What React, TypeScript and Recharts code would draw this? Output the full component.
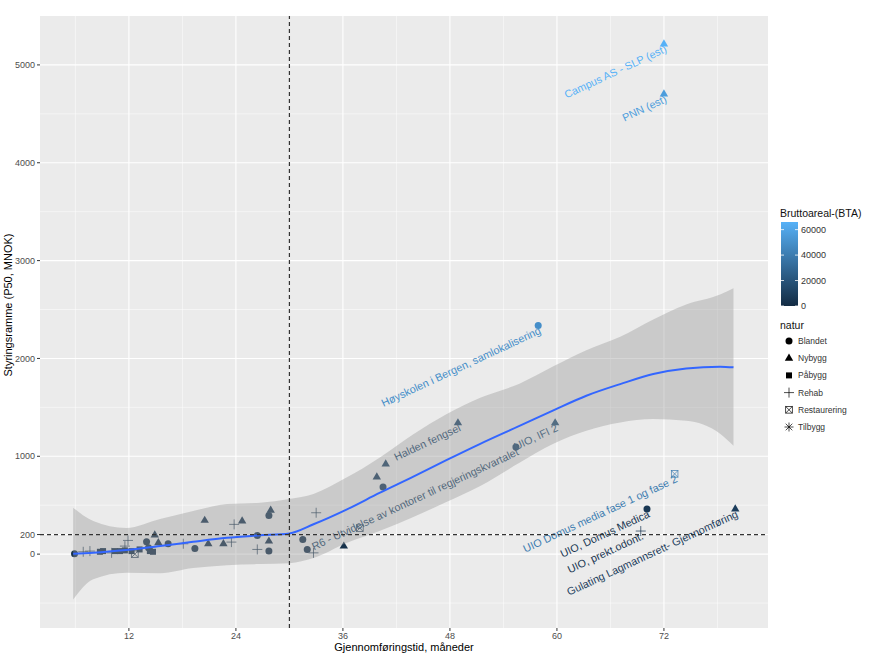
import React from "react"
import {
  ComposedChart,
  Scatter,
  Area,
  Line,
  XAxis,
  YAxis,
  CartesianGrid,
  ReferenceLine,
} from "recharts"

// [måneder, MNOK, BTA]
const blandet = [
  [5.9, 5, 3000],
  [13.98, 126, 3000],
  [14.2, 65, 3000],
  [16.4, 106, 3500],
  [19.4, 58, 3000],
  [26.4, 191, 4000],
  [27.7, 31, 3000],
  [27.7, 396, 6000],
  [31.5, 150, 3500],
  [32.0, 48, 3000],
  [40.5, 686, 9000],
  [55.4, 1096, 14000],
  [57.9, 2336, 49000],
  [70.1, 461, 6000],
]
const nybygg = [
  [14.9, 195, 3500],
  [15.3, 116, 3000],
  [20.5, 345, 5000],
  [20.9, 106, 3000],
  [22.6, 106, 3000],
  [24.7, 338, 5000],
  [27.7, 133, 3000],
  [27.9, 448, 6000],
  [36.1, 82, 3000],
  [39.8, 789, 10000],
  [40.8, 922, 12000],
  [48.9, 1342, 15000],
  [59.8, 1342, 18000],
  [72, 5215, 66000],
  [72, 4703, 56000],
  [80, 461, 9000],
]
const pabygg = [
  [8.75, 24, 2500],
  [9.1, 31, 2500],
  [10.43, 31, 2500],
  [11.0, 31, 2500],
  [11.55, 38, 2500],
  [12.3, 31, 2500],
  [13.2, 48, 2500],
  [14.35, 31, 2500],
  [14.7, 24, 2500],
]
const rehab = [
  [6.88, 24, 2500],
  [7.63, 31, 2500],
  [10.06, 13, 2500],
  [11.55, 82, 2500],
  [11.9, 140, 2500],
  [18.1, 106, 2500],
  [23.5, 123, 2500],
  [23.8, 304, 3000],
  [26.4, 48, 2500],
  [32.7, 13, 2500],
  [33.0, 423, 4000],
  [69.4, 236, 5000],
]
const restaurering = [
  [12.67, 0, 2500],
  [37.9, 266, 3000],
  [73.2, 820, 40000],
]

const labelText = [
  "Campus AS - SLP (est)",
  "PNN (est)",
  "Høyskolen i Bergen, samlokalisering",
  "Halden fengsel",
  "R6 - Utvidelse av kontorer til regjeringskvartalet",
  "UIO, IFI 2",
  "UIO Domus media fase 1 og fase 2",
  "UIO, Domus Medica",
  "UIO, prekt.odont.",
  "Gulating Lagmannsrett- Gjennomføring",
]
const labelX = [72, 72, 57.9, 48.9, 55.4, 59.8, 73.2, 70.1, 69.4, 80]
const labelY = [5215, 4703, 2336, 1342, 1096, 1342, 820, 461, 236, 461]
const labelBta = [66000, 56000, 49000, 15000, 14000, 18000, 40000, 6000, 5000, 9000]

// loess-kurve med konfidensbånd
const fitX = [5.75, 8, 11.7, 15.5, 19.2, 23, 26.7, 30, 32.7, 36.4, 40.1, 43.9, 47.6, 51.4, 55.8, 59.6, 63.3, 67.1, 70.8, 74.5, 78.3, 79.8]
const fitY = [3, 13, 41, 82, 126, 167, 192, 212, 305, 455, 625, 792, 960, 1127, 1310, 1470, 1619, 1738, 1841, 1898, 1916, 1909]
const fitLo = [-464, -256, -190, -195, -143, -113, -102, -92, -40, 113, 236, 379, 533, 697, 933, 1127, 1260, 1345, 1380, 1363, 1230, 1107]
const fitHi = [474, 338, 268, 359, 441, 512, 526, 563, 615, 782, 986, 1225, 1430, 1598, 1742, 1919, 2083, 2221, 2398, 2551, 2654, 2718]

const xMajor = [12, 24, 36, 48, 60, 72]
const xMinor = [6, 18, 30, 42, 54, 66, 78]
const yMajor = [0, 200, 1000, 2000, 3000, 4000, 5000]
const yMinor = [-500, 500, 1500, 2500, 3500, 4500]
const btaTicks = [0, 20000, 40000, 60000]
const naturNames = ["Blandet", "Nybygg", "Påbygg", "Rehab", "Restaurering", "Tilbygg"]

const BTA_MAX = 66000
const LOW = [0x13, 0x2b, 0x43]
const HIGH = [0x56, 0xb1, 0xf7]
const FONT = "'Liberation Sans', Arial, Helvetica, sans-serif"

function btaColor(b: number) {
  const t = Math.max(0, Math.min(1, b / BTA_MAX))
  const rgb = LOW.map((v, i) => Math.round(v + (HIGH[i] - v) * t))
  return `rgb(${rgb.join(",")})`
}

const toPoints = (rows: number[][]) => rows.map(([x, y, bta]) => ({ x, y, bta }))

const fit = fitX.map((x, i) => ({ x, y: fitY[i], band: [fitLo[i], fitHi[i]] }))
const labels = labelText.map((name, i) => ({ x: labelX[i], y: labelY[i], bta: labelBta[i], name }))

function Marker({ kind, cx, cy, color }: { kind: string; cx: number; cy: number; color: string }) {
  if (kind === "Blandet") return <circle cx={cx} cy={cy} r={3.5} fill={color} />
  if (kind === "Nybygg")
    return (
      <polygon
        points={`${cx},${cy - 4.7} ${cx - 4.2},${cy + 2.5} ${cx + 4.2},${cy + 2.5}`}
        fill={color}
      />
    )
  if (kind === "Påbygg") return <rect x={cx - 3} y={cy - 3} width={6} height={6} fill={color} />
  if (kind === "Rehab")
    return (
      <g stroke={color} strokeWidth={0.7}>
        <line x1={cx - 5} y1={cy} x2={cx + 5} y2={cy} />
        <line x1={cx} y1={cy - 5} x2={cx} y2={cy + 5} />
      </g>
    )
  if (kind === "Restaurering")
    return (
      <g stroke={color} strokeWidth={0.7} fill="none">
        <rect x={cx - 3.3} y={cy - 3.3} width={6.6} height={6.6} />
        <line x1={cx - 3.3} y1={cy - 3.3} x2={cx + 3.3} y2={cy + 3.3} />
        <line x1={cx - 3.3} y1={cy + 3.3} x2={cx + 3.3} y2={cy - 3.3} />
      </g>
    )
  return (
    <g stroke={color} strokeWidth={0.7}>
      <line x1={cx - 4.5} y1={cy} x2={cx + 4.5} y2={cy} />
      <line x1={cx} y1={cy - 4.5} x2={cx} y2={cy + 4.5} />
      <line x1={cx - 3.3} y1={cy - 3.3} x2={cx + 3.3} y2={cy + 3.3} />
      <line x1={cx - 3.3} y1={cy + 3.3} x2={cx + 3.3} y2={cy - 3.3} />
    </g>
  )
}

const shapeFor = (kind: string) => (p: any) =>
  <Marker kind={kind} cx={p.cx} cy={p.cy} color={btaColor(p.payload.bta)} />

const LabelShape = (p: any) => {
  const { cx, cy, payload } = p
  return (
    <text
      x={cx}
      y={cy}
      dy="0.78em"
      textAnchor="end"
      transform={`rotate(-25 ${cx} ${cy})`}
      fontSize={10.8}
      fontFamily={FONT}
      fill={btaColor(payload.bta)}
    >
      {payload.name}
    </text>
  )
}

const series: [string, number[][]][] = [
  ["Blandet", blandet],
  ["Nybygg", nybygg],
  ["Påbygg", pabygg],
  ["Rehab", rehab],
  ["Restaurering", restaurering],
]

function Legend() {
  const barTop = 222
  const barH = 84
  const yOf = (v: number) => barTop + barH * (1 - v / BTA_MAX)
  return (
    <svg width={879} height={657} style={{ position: "absolute", left: 0, top: 0, pointerEvents: "none" }}>
      <defs>
        <linearGradient id="bta" x1="0" y1="1" x2="0" y2="0">
          <stop offset="0" stopColor={btaColor(0)} />
          <stop offset="0.5" stopColor={btaColor(BTA_MAX / 2)} />
          <stop offset="1" stopColor={btaColor(BTA_MAX)} />
        </linearGradient>
      </defs>
      <text x={780} y={217} fontSize={10.5} fontFamily={FONT} fill="#111">
        Bruttoareal-(BTA)
      </text>
      <rect x={781} y={barTop} width={17} height={barH} fill="url(#bta)" />
      {btaTicks.map((t) => (
        <g key={t}>
          <line x1={781} x2={784} y1={yOf(t)} y2={yOf(t)} stroke="#fff" strokeWidth={0.8} />
          <line x1={795} x2={798} y1={yOf(t)} y2={yOf(t)} stroke="#fff" strokeWidth={0.8} />
          <text x={801} y={yOf(t) + 3} fontSize={9} fontFamily={FONT} fill="#333">
            {t}
          </text>
        </g>
      ))}
      <text x={780} y={329} fontSize={10.5} fontFamily={FONT} fill="#111">
        natur
      </text>
      {naturNames.map((n, i) => (
        <g key={n}>
          <Marker kind={n} cx={789} cy={341 + 17.2 * i} color="#000" />
          <text x={798} y={341 + 17.2 * i + 3} fontSize={8.5} fontFamily={FONT} fill="#333">
            {n}
          </text>
        </g>
      ))}
      <text x={404} y={651} textAnchor="middle" fontSize={11} fontFamily={FONT} fill="#000">
        Gjennomføringstid, måneder
      </text>
      <text
        transform="rotate(-90)"
        x={-305}
        y={12}
        textAnchor="middle"
        fontSize={11}
        fontFamily={FONT}
        fill="#000"
      >
        Styringsramme (P50, MNOK)
      </text>
    </svg>
  )
}

export default function App() {
  const tick = { fontSize: 9, fill: "#4D4D4D", fontFamily: FONT }
  return (
    <div style={{ position: "absolute", left: 0, top: 0, width: 879, height: 657, background: "#fff" }}>
      <ComposedChart width={879} height={657} margin={{ top: 16, right: 111, bottom: 0, left: 0 }}>
        <CartesianGrid
          fill="#EBEBEB"
          stroke="#FFFFFF"
          strokeWidth={0.5}
          horizontalValues={yMinor}
          verticalValues={xMinor}
        />
        <CartesianGrid stroke="#FFFFFF" strokeWidth={1.1} horizontalValues={yMajor} verticalValues={xMajor} />
        <XAxis
          type="number"
          dataKey="x"
          domain={[2.03, 83.67]}
          allowDataOverflow
          ticks={xMajor}
          interval={0}
          axisLine={false}
          tickSize={3}
          tickMargin={2}
          tickLine={{ stroke: "#333" }}
          tick={tick}
          height={29}
        />
        <YAxis
          type="number"
          dataKey="y"
          domain={[-755, 5500]}
          allowDataOverflow
          ticks={yMajor}
          interval={0}
          axisLine={false}
          tickSize={3}
          tickMargin={2}
          tickLine={{ stroke: "#333" }}
          tick={tick}
          width={40}
        />
        {series.map(([kind, rows]) => (
          <Scatter
            key={kind}
            data={toPoints(rows)}
            dataKey="y"
            shape={shapeFor(kind)}
            isAnimationActive={false}
          />
        ))}
        <Scatter data={labels} dataKey="y" shape={LabelShape} isAnimationActive={false} />
        <Area
          data={fit}
          dataKey="band"
          type="monotone"
          fill="#999999"
          fillOpacity={0.4}
          stroke="none"
          isAnimationActive={false}
          zIndex={650}
        />
        <Line
          data={fit}
          dataKey="y"
          type="monotone"
          stroke="#3366FF"
          strokeWidth={2}
          dot={false}
          isAnimationActive={false}
          zIndex={660}
        />
        <ReferenceLine x={30} stroke="#333" strokeDasharray="4 3" strokeWidth={1.2} zIndex={700} />
        <ReferenceLine y={200} stroke="#333" strokeDasharray="4 3" strokeWidth={1.2} zIndex={700} />
      </ComposedChart>
      <Legend />
    </div>
  )
}
